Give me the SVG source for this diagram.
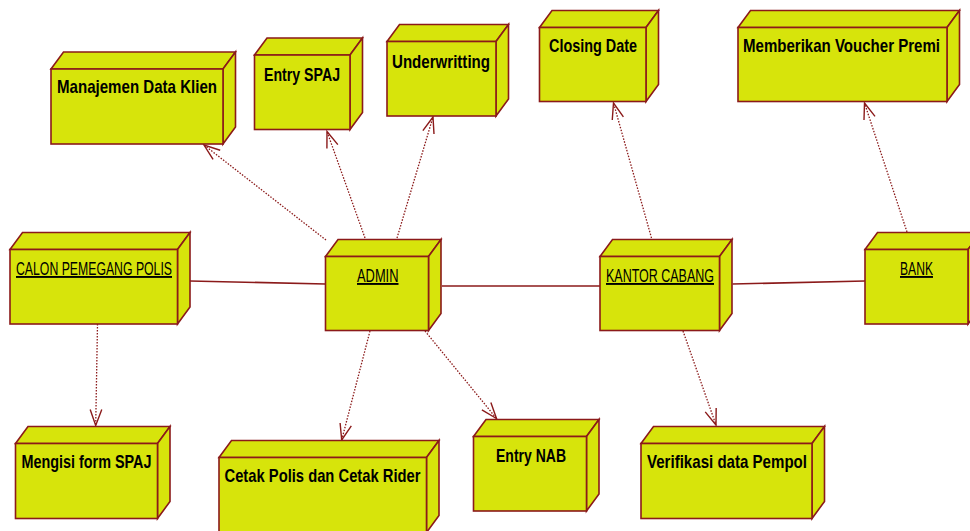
<svg xmlns="http://www.w3.org/2000/svg" width="970" height="531" viewBox="0 0 970 531">
  <style>
    .face { fill: #D7E40B; stroke: #8B1A1A; stroke-width: 1.6; stroke-linejoin: miter; }
    .lbl { font-family: "Liberation Sans", Arial, sans-serif; font-size: 19px; font-weight: bold; fill: #000; }
    .inst { font-family: "Liberation Sans", Arial, sans-serif; font-size: 19px; font-weight: normal; fill: #000; text-decoration: underline; }
    .assoc { fill: none; stroke: #8B1A1A; stroke-width: 1.6; }
    .dep { fill: none; stroke: #8B1A1A; stroke-width: 1.3; stroke-dasharray: 1.5 1.5; marker-end: url(#open); }
  </style>
  <defs>
    <marker id="open" markerUnits="userSpaceOnUse" markerWidth="20" markerHeight="16" viewBox="-18 -8 20 16" refX="0" refY="0" orient="auto">
      <path d="M -16,-5.8 L 0,0 L -16,5.8" fill="none" stroke="#8B1A1A" stroke-width="1.4" stroke-dasharray="none"/>
    </marker>
  </defs>
  <rect width="970" height="531" fill="#fff"/>

  <!-- connectors -->
  <g id="connectors">
    <line class="assoc" x1="190" y1="281" x2="325.5" y2="284"/>
    <line class="assoc" x1="442" y1="286" x2="600" y2="286"/>
    <line class="assoc" x1="732.5" y1="284" x2="865" y2="281"/>
    <line class="dep" x1="326" y1="240" x2="204" y2="145"/>
    <line class="dep" x1="365" y1="238" x2="327" y2="131.5"/>
    <line class="dep" x1="397" y1="238" x2="433" y2="117"/>
    <line class="dep" x1="651.5" y1="238" x2="613.5" y2="103"/>
    <line class="dep" x1="907" y1="232" x2="864.5" y2="103"/>
    <line class="dep" x1="97.5" y1="324" x2="95.7" y2="425.5"/>
    <line class="dep" x1="370" y1="331" x2="341.7" y2="440"/>
    <line class="dep" x1="425" y1="331" x2="496.5" y2="418.5"/>
    <line class="dep" x1="683" y1="331" x2="716" y2="425"/>
  </g>

  <!-- nodes: top face, right face, front face, label -->
  <g id="manajemen">
    <path class="face" d="M51,69 L63.5,52 L235.5,52 L223,69 Z"/>
    <path class="face" d="M223,69 L235.5,52 L235.5,127 L223,144 Z"/>
    <rect class="face" x="51" y="69" width="172" height="75"/>
    <text class="lbl" x="57" y="93" textLength="160" lengthAdjust="spacingAndGlyphs">Manajemen Data Klien</text>
  </g>
  <g id="entry-spaj">
    <path class="face" d="M254.5,55 L267,38 L362.5,38 L350,55 Z"/>
    <path class="face" d="M350,55 L362.5,38 L362.5,112.5 L350,129.5 Z"/>
    <rect class="face" x="254.5" y="55" width="95.5" height="74.5"/>
    <text class="lbl" x="264" y="81" textLength="76" lengthAdjust="spacingAndGlyphs">Entry SPAJ</text>
  </g>
  <g id="underwritting">
    <path class="face" d="M387,41.5 L399.5,24.5 L508.5,24.5 L496,41.5 Z"/>
    <path class="face" d="M496,41.5 L508.5,24.5 L508.5,99 L496,116 Z"/>
    <rect class="face" x="387" y="41.5" width="109" height="74.5"/>
    <text class="lbl" x="392" y="68" textLength="98" lengthAdjust="spacingAndGlyphs">Underwritting</text>
  </g>
  <g id="closing-date">
    <path class="face" d="M539.5,27.5 L552,10.5 L658.5,10.5 L646,27.5 Z"/>
    <path class="face" d="M646,27.5 L658.5,10.5 L658.5,84.5 L646,101.5 Z"/>
    <rect class="face" x="539.5" y="27.5" width="106.5" height="74"/>
    <text class="lbl" x="549" y="52" textLength="88" lengthAdjust="spacingAndGlyphs">Closing Date</text>
  </g>
  <g id="voucher-premi">
    <path class="face" d="M738,27.5 L750.5,10.5 L959.5,10.5 L947,27.5 Z"/>
    <path class="face" d="M947,27.5 L959.5,10.5 L959.5,84.5 L947,101.5 Z"/>
    <rect class="face" x="738" y="27.5" width="209" height="74"/>
    <text class="lbl" x="743" y="52" textLength="197" lengthAdjust="spacingAndGlyphs">Memberikan Voucher Premi</text>
  </g>
  <g id="calon-pemegang-polis">
    <path class="face" d="M10,249.5 L22.5,232.5 L190,232.5 L177.5,249.5 Z"/>
    <path class="face" d="M177.5,249.5 L190,232.5 L190,307 L177.5,324 Z"/>
    <rect class="face" x="10" y="249.5" width="167.5" height="74.5"/>
    <text class="inst" x="16" y="275" textLength="156" lengthAdjust="spacingAndGlyphs">CALON PEMEGANG POLIS</text>
  </g>
  <g id="admin">
    <path class="face" d="M325.5,256.5 L338,239.5 L441,239.5 L428.5,256.5 Z"/>
    <path class="face" d="M428.5,256.5 L441,239.5 L441,313.5 L428.5,330.5 Z"/>
    <rect class="face" x="325.5" y="256.5" width="103" height="74"/>
    <text class="inst" x="357" y="282" textLength="41.5" lengthAdjust="spacingAndGlyphs">ADMIN</text>
  </g>
  <g id="kantor-cabang">
    <path class="face" d="M600,256.5 L612.5,239.5 L732,239.5 L719.5,256.5 Z"/>
    <path class="face" d="M719.5,256.5 L732,239.5 L732,313.5 L719.5,330.5 Z"/>
    <rect class="face" x="600" y="256.5" width="119.5" height="74"/>
    <text class="inst" x="606" y="282" textLength="108" lengthAdjust="spacingAndGlyphs">KANTOR CABANG</text>
  </g>
  <g id="bank">
    <path class="face" d="M865,249.5 L877.5,232.5 L980.5,232.5 L968,249.5 Z"/>
    <path class="face" d="M968,249.5 L980.5,232.5 L980.5,307 L968,324 Z"/>
    <rect class="face" x="865" y="249.5" width="103" height="74.5"/>
    <text class="inst" x="900" y="275" textLength="33" lengthAdjust="spacingAndGlyphs">BANK</text>
  </g>
  <g id="mengisi-form-spaj">
    <path class="face" d="M15.5,443.5 L28,426.5 L170,426.5 L157.5,443.5 Z"/>
    <path class="face" d="M157.5,443.5 L170,426.5 L170,501.5 L157.5,518.5 Z"/>
    <rect class="face" x="15.5" y="443.5" width="142" height="75"/>
    <text class="lbl" x="21.5" y="468" textLength="130" lengthAdjust="spacingAndGlyphs">Mengisi form SPAJ</text>
  </g>
  <g id="cetak-polis">
    <path class="face" d="M219,457.5 L231.5,440.5 L439,440.5 L426.5,457.5 Z"/>
    <path class="face" d="M426.5,457.5 L439,440.5 L439,515.5 L426.5,532.5 Z"/>
    <rect class="face" x="219" y="457.5" width="207.5" height="80"/>
    <text class="lbl" x="224.5" y="482" textLength="196" lengthAdjust="spacingAndGlyphs">Cetak Polis dan Cetak Rider</text>
  </g>
  <g id="entry-nab">
    <path class="face" d="M473.5,436.5 L486,419.5 L599,419.5 L586.5,436.5 Z"/>
    <path class="face" d="M586.5,436.5 L599,419.5 L599,494 L586.5,511 Z"/>
    <rect class="face" x="473.5" y="436.5" width="113" height="74.5"/>
    <text class="lbl" x="496" y="462" textLength="70" lengthAdjust="spacingAndGlyphs">Entry NAB</text>
  </g>
  <g id="verifikasi-pempol">
    <path class="face" d="M641,443.5 L653.5,426.5 L824.5,426.5 L812,443.5 Z"/>
    <path class="face" d="M812,443.5 L824.5,426.5 L824.5,501.5 L812,518.5 Z"/>
    <rect class="face" x="641" y="443.5" width="171" height="75"/>
    <text class="lbl" x="647" y="468" textLength="160" lengthAdjust="spacingAndGlyphs">Verifikasi data Pempol</text>
  </g>
</svg>
